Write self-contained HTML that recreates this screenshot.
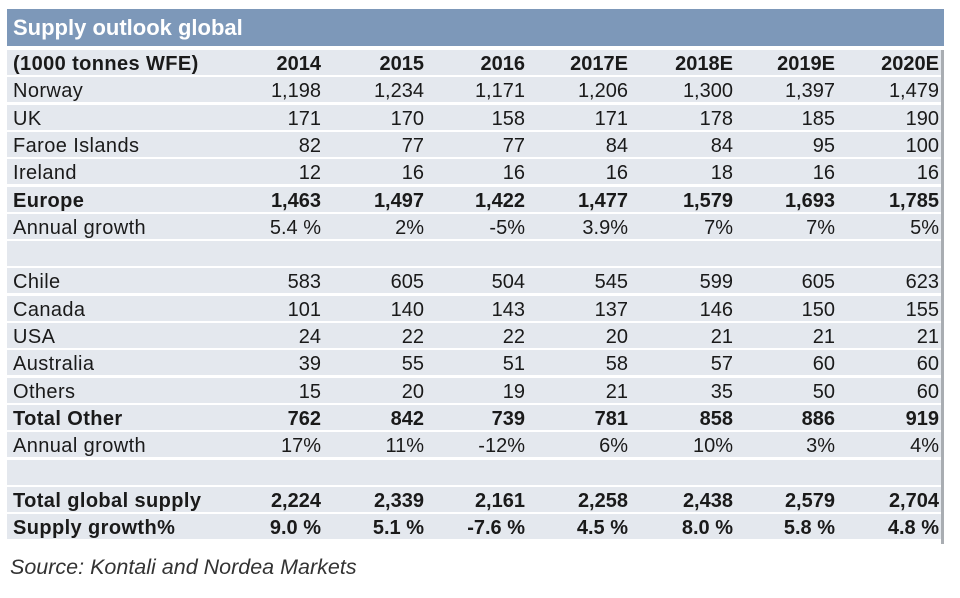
<!DOCTYPE html>
<html><head><style>
body{margin:0;width:960px;height:598px;background:#fff;font-family:"Liberation Sans",Arial,sans-serif;position:relative;overflow:hidden;color:#1a1a1a}
.title{position:absolute;left:7px;top:9px;width:937px;height:37px;background:#7d98b9;color:#fff;font-weight:bold;font-size:22px;line-height:38px;padding-left:6px;box-sizing:border-box}
.row{position:absolute;left:7px;width:934px;height:25px;background:#e4e8ee;font-size:20px;line-height:29px}
.rb{position:absolute;left:941px;top:50px;width:3px;height:494px;background:#a9adb2}
.row span{position:absolute;top:0}
.l{left:6px;letter-spacing:0.4px}
.b{font-weight:bold}
.src{position:absolute;left:10px;top:555px;font-style:italic;font-size:21.5px;color:#333}
</style></head><body>
<div class="title">Supply outlook global</div>
<div class="rb"></div>
<div id="t"></div>
<div class="src">Source: Kontali and Nordea Markets</div>
<script>
var rows=[
["(1000 tonnes WFE)","2014","2015","2016","2017E","2018E","2019E","2020E",1],
["Norway","1,198","1,234","1,171","1,206","1,300","1,397","1,479"],
["UK","171","170","158","171","178","185","190"],
["Faroe Islands","82","77","77","84","84","95","100"],
["Ireland","12","16","16","16","18","16","16"],
["Europe","1,463","1,497","1,422","1,477","1,579","1,693","1,785",1],
["Annual growth","5.4 %","2%","-5%","3.9%","7%","7%","5%"],
[""],
["Chile","583","605","504","545","599","605","623"],
["Canada","101","140","143","137","146","150","155"],
["USA","24","22","22","20","21","21","21"],
["Australia","39","55","51","58","57","60","60"],
["Others","15","20","19","21","35","50","60"],
["Total Other","762","842","739","781","858","886","919",1],
["Annual growth","17%","11%","-12%","6%","10%","3%","4%"],
[""],
["Total global supply","2,224","2,339","2,161","2,258","2,438","2,579","2,704",1],
["Supply growth%","9.0 %","5.1 %","-7.6 %","4.5 %","8.0 %","5.8 %","4.8 %",1]];
var rights=[321,424,525,628,733,835,939];
var h="";
rows.forEach(function(r,i){
 var top=(50+i*27.3).toFixed(1);
 h+='<div class="row'+(r[8]?' b':'')+'" style="top:'+top+'px"><span class="l">'+r[0]+'</span>';
 for(var j=1;j<8&&j<r.length;j++){h+='<span style="right:'+(941-rights[j-1])+'px">'+r[j]+'</span>';}
 h+='</div>';
});
document.getElementById('t').innerHTML=h;
</script>
</body></html>
